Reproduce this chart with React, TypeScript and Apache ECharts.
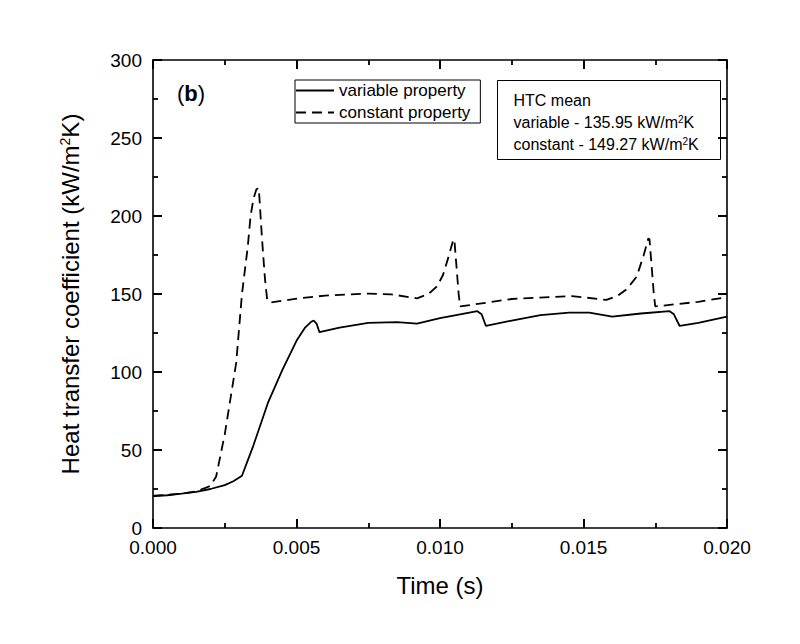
import React, { useEffect, useRef } from "react";
import * as echarts from "echarts";

// Heat transfer coefficient history: variable vs. constant fluid properties
const variableTime = [
  0, 0.0005, 0.001, 0.0015, 0.002, 0.0025, 0.0028, 0.0031, 0.0035, 0.004, 0.0045, 0.005,
  0.0053, 0.0055, 0.0056, 0.0057, 0.0058, 0.0065, 0.0075, 0.0085, 0.0092, 0.01, 0.0107,
  0.0113, 0.01145, 0.0116, 0.0125, 0.0135, 0.0145, 0.0152, 0.016, 0.017, 0.018, 0.01815,
  0.01835, 0.019, 0.02,
];
const variableHTC = [
  20.5, 21, 22, 23.2, 25, 27.5, 30, 33.5, 53, 80, 101, 120, 128.5, 132, 133, 131, 125.5,
  128.5, 131.5, 132, 131, 134.5, 137, 139, 137, 129.5, 133, 136.5, 138, 138, 135.5, 137.5,
  139, 137, 129.5, 131.5, 135.5,
];

const constantTime = [
  0, 0.001, 0.0015, 0.0018, 0.002, 0.0022, 0.0025, 0.0029, 0.0031, 0.0033, 0.0034, 0.0035,
  0.0036, 0.00367, 0.0037, 0.0038, 0.0039, 0.00398, 0.0041, 0.005, 0.006, 0.0075, 0.0083,
  0.0092, 0.0096, 0.0099, 0.0101, 0.0103, 0.01046, 0.0105, 0.01065, 0.0107, 0.0125, 0.0146,
  0.0158, 0.0162, 0.0165, 0.01685, 0.0171, 0.01726, 0.0173, 0.01745, 0.0175, 0.019, 0.02,
];
const constantHTC = [
  20.5, 22, 23.5, 25.5, 27, 33, 60, 106, 150, 180, 200, 211, 217, 218, 214, 185, 160, 146,
  144.5, 147, 149, 150.3, 149.8, 147.2, 150, 155, 162, 174, 184.6, 185, 150, 142, 146.8,
  148.7, 146.2, 149, 153, 161, 175, 185.7, 185, 150, 142, 145, 148,
];

const seriesNames = ["variable property", "constant property"];
const meanLines = [
  { label: "variable - 135.95 kW/m", unitTail: "K" },
  { label: "constant - 149.27 kW/m", unitTail: "K" },
];

const FONT = "'Liberation Sans', Arial, Helvetica, sans-serif";

const zip = (xs: number[], ys: number[]) => xs.map((x, i) => [x, ys[i]]);

// Inward ticks on all four sides; the mirrored top/right axes must not snap to zero.
const axisStyle = (mirror: boolean) => ({
  axisLine: { show: true, onZero: !mirror, lineStyle: { color: "#000", width: 1.6 } },
  axisTick: { show: true, inside: true, length: 9, lineStyle: { color: "#000", width: 2 } },
  minorTick: { show: true, splitNumber: 2, length: 5, lineStyle: { color: "#000", width: 1.8 } },
  splitLine: { show: false },
});

export default function App() {
  const ref = useRef<HTMLDivElement>(null);

  useEffect(() => {
    if (!ref.current) return;
    const chart = echarts.init(ref.current, null, { renderer: "svg" });

    const supRich = (size: number) => ({
      a: { fontSize: size, fontFamily: FONT, color: "#000" },
      s: { fontSize: Math.round(size * 0.6), fontFamily: FONT, color: "#000", verticalAlign: "top" as const },
    });

    chart.setOption({
      animation: false,
      backgroundColor: "#fff",
      grid: { left: 153, right: 73, top: 60, bottom: 116 },
      legend: {
        data: seriesNames,
        orient: "vertical",
        left: 295,
        top: 80,
        itemWidth: 38,
        itemHeight: 17,
        itemGap: 5,
        padding: [2, 10, 2, 0],
        borderColor: "#000",
        borderWidth: 1,
        itemStyle: { color: "rgba(0,0,0,0)", borderWidth: 0 },
        textStyle: { fontSize: 17, fontFamily: FONT, color: "#000" },
      },
      xAxis: [
        {
          type: "value",
          position: "bottom",
          min: 0,
          max: 0.02,
          interval: 0.005,
          ...axisStyle(false),
          axisLabel: {
            fontSize: 19,
            color: "#000",
            fontFamily: FONT,
            margin: 10,
            formatter: (v: number) => v.toFixed(3),
          },
          name: "Time (s)",
          nameLocation: "middle",
          nameGap: 45,
          nameTextStyle: { fontSize: 24, color: "#000", fontFamily: FONT },
        },
        {
          type: "value",
          position: "top",
          min: 0,
          max: 0.02,
          interval: 0.005,
          ...axisStyle(true),
          axisLabel: { show: false },
        },
      ],
      yAxis: [
        {
          type: "value",
          position: "left",
          min: 0,
          max: 300,
          interval: 50,
          ...axisStyle(false),
          axisLabel: { fontSize: 19, color: "#000", fontFamily: FONT, margin: 11 },
          name: "{a|Heat transfer coefficient (kW/m}{s|2}{a|K)}",
          nameLocation: "middle",
          nameRotate: 90,
          nameGap: 71,
          nameTextStyle: { rich: supRich(24) },
        },
        {
          type: "value",
          position: "right",
          min: 0,
          max: 300,
          interval: 50,
          ...axisStyle(true),
          axisLabel: { show: false },
        },
      ],
      series: [
        {
          name: seriesNames[0],
          type: "line",
          data: zip(variableTime, variableHTC),
          showSymbol: false,
          symbol: "none",
          lineStyle: { color: "#000", width: 1.8, type: "solid" },
          itemStyle: { color: "#000" },
        },
        {
          name: seriesNames[1],
          type: "line",
          data: zip(constantTime, constantHTC),
          showSymbol: false,
          symbol: "none",
          lineStyle: { color: "#000", width: 1.8, type: [10, 6] },
          itemStyle: { color: "#000" },
        },
      ],
      graphic: [
        {
          type: "text",
          left: 177,
          top: 82,
          style: {
            text: "{p|(}{b|b}{p|)}",
            rich: {
              p: { fontSize: 22, fontFamily: FONT, color: "#000" },
              b: { fontSize: 22, fontFamily: FONT, color: "#000", fontWeight: "bold" },
            },
          },
        },
        {
          type: "group",
          left: 497,
          top: 80,
          children: [
            {
              type: "rect",
              shape: { x: 0, y: 0, width: 223, height: 79 },
              style: { fill: "#fff", stroke: "#000", lineWidth: 1 },
            },
            {
              type: "text",
              x: 16,
              y: 20,
              style: {
                text: "HTC mean",
                fontSize: 16,
                fontFamily: FONT,
                fill: "#000",
                verticalAlign: "middle",
              },
            },
            ...meanLines.map((m, i) => ({
              type: "text",
              x: 16,
              y: 42 + i * 21.5,
              style: {
                text: `{a|${m.label}}{s|2}{a|${m.unitTail}}`,
                rich: supRich(16),
                verticalAlign: "middle",
              },
            })),
          ],
        },
      ],
    });

    return () => chart.dispose();
  }, []);

  return (
    <div
      ref={ref}
      style={{ position: "absolute", left: 0, top: 0, width: 800, height: 644 }}
    />
  );
}
